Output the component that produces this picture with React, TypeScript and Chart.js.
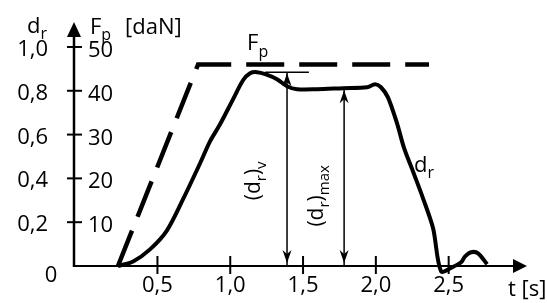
import React, { useEffect, useRef } from "react";
import { Chart, registerables } from "chart.js";

Chart.register(...registerables);

const FONT = "'Open Sans', Lato, sans-serif";

// d_r curve (time in s, relative displacement)
const drTime = [
  0.229, 0.333, 0.449, 0.566, 0.676, 0.793, 0.861, 0.93, 1.019, 1.088, 1.136,
  1.184, 1.245, 1.321, 1.39, 1.459, 1.596, 1.775, 1.94, 1.995, 2.035, 2.083,
  2.145, 2.194, 2.255, 2.324, 2.393, 2.448, 2.523, 2.585, 2.613, 2.654, 2.702,
  2.764,
];
const drValue = [
  0, 0.021, 0.076, 0.163, 0.305, 0.469, 0.569, 0.647, 0.761, 0.848, 0.88,
  0.885, 0.875, 0.853, 0.821, 0.807, 0.807, 0.812, 0.816, 0.83, 0.816, 0.77,
  0.652, 0.538, 0.432, 0.309, 0.172, -0.024, -0.006, 0.017, 0.044, 0.063,
  0.058, 0.008,
];

// F_p dashed line (time in s, force in daN)
const fpTime = [0.229, 0.779, 2.365];
const fpValue = [0, 46, 46];

// annotation arrows
const dvTime = 1.39;
const dvTop = 0.885;
const dmaxTime = 1.782;
const dmaxTop = 0.812;
const peakLineTime = [1.24, 1.54];

// ticks
const xTicks = [0.5, 1.0, 1.5, 2.0, 2.5];
const xTickLabels = ["0,5", "1,0", "1,5", "2,0", "2,5"];
const drTicks = [0, 0.2, 0.4, 0.6, 0.8, 1.0];
const drTickLabels = ["0", "0,2", "0,4", "0,6", "0,8", "1,0"];
const fpTicks = [10, 20, 30, 40, 50];
const fpTickLabels = ["10", "20", "30", "40", "50"];

type Part = { t: string; sub?: boolean };

function drawRich(
  ctx: CanvasRenderingContext2D,
  parts: Part[],
  x: number,
  y: number,
  size: number,
  rotate = false
) {
  ctx.save();
  ctx.translate(x, y);
  if (rotate) ctx.rotate(-Math.PI / 2);
  ctx.textAlign = "left";
  ctx.textBaseline = "alphabetic";
  ctx.fillStyle = "#000";
  let cx = 0;
  const subSize = Math.round(size * 0.72);
  for (const p of parts) {
    ctx.font = `${p.sub ? subSize : size}px ${FONT}`;
    ctx.fillText(p.t, cx, p.sub ? size * 0.28 : 0);
    cx += ctx.measureText(p.t).width;
  }
  ctx.restore();
}

function arrowHead(
  ctx: CanvasRenderingContext2D,
  tx: number,
  ty: number,
  dir: number,
  len: number,
  half: number
) {
  // dir: 1 = pointing down, -1 = pointing up
  ctx.beginPath();
  ctx.moveTo(tx, ty);
  ctx.lineTo(tx - half, ty - dir * len);
  ctx.lineTo(tx, ty - dir * (len - 4));
  ctx.lineTo(tx + half, ty - dir * len);
  ctx.closePath();
  ctx.fill();
}

const decorPlugin = {
  id: "decor",
  afterDatasetsDraw(chart: any) {
    const ctx: CanvasRenderingContext2D = chart.ctx;
    const xs = chart.scales.x;
    const ys = chart.scales.y;
    const yf = chart.scales.yF;
    const area = chart.chartArea;
    const ax = area.left;
    const ay = ys.getPixelForValue(0);
    ctx.save();
    ctx.fillStyle = "#000";
    ctx.strokeStyle = "#000";

    // y axis
    ctx.lineWidth = 2.5;
    ctx.beginPath();
    ctx.moveTo(ax, ay + 1);
    ctx.lineTo(ax, area.top + 10);
    ctx.stroke();
    ctx.beginPath();
    ctx.moveTo(ax, area.top);
    ctx.lineTo(ax - 7, area.top + 15);
    ctx.lineTo(ax + 7, area.top + 15);
    ctx.closePath();
    ctx.fill();

    // x axis
    ctx.lineWidth = 2;
    ctx.beginPath();
    ctx.moveTo(ax, ay);
    ctx.lineTo(area.right - 8, ay);
    ctx.stroke();
    ctx.beginPath();
    ctx.moveTo(area.right, ay);
    ctx.lineTo(area.right - 14, ay - 7);
    ctx.lineTo(area.right - 14, ay + 7);
    ctx.closePath();
    ctx.fill();

    // y ticks + labels
    ctx.lineWidth = 2;
    ctx.font = `22px ${FONT}`;
    drTicks.forEach((v, i) => {
      const py = ys.getPixelForValue(v);
      if (v !== 0) {
        ctx.beginPath();
        ctx.moveTo(ax - 7, py);
        ctx.lineTo(ax + 8, py);
        ctx.stroke();
        ctx.textAlign = "right";
        ctx.fillText(drTickLabels[i], ax - 26, py + 9);
      } else {
        ctx.textAlign = "center";
        ctx.fillText(drTickLabels[i], ax - 23, py + 16);
      }
    });
    ctx.textAlign = "left";
    fpTicks.forEach((v, i) => {
      const py = yf.getPixelForValue(v);
      ctx.fillText(fpTickLabels[i], ax + 14, py + 10);
    });

    // x ticks + labels
    ctx.textAlign = "center";
    xTicks.forEach((v, i) => {
      const px = xs.getPixelForValue(v);
      ctx.beginPath();
      ctx.moveTo(px, ay - 10);
      ctx.lineTo(px, ay + 8);
      ctx.stroke();
      ctx.fillText(xTickLabels[i], px, ay + 26);
    });

    // axis titles
    drawRich(ctx, [{ t: "d" }, { t: "r", sub: true }], ax - 47, area.top + 11, 22);
    drawRich(ctx, [{ t: "F" }, { t: "p", sub: true }], ax + 16, area.top + 12, 22);
    drawRich(ctx, [{ t: "[daN]" }], ax + 51, area.top + 12, 22);
    drawRich(ctx, [{ t: "t [s]" }], area.right - 19, ay + 30, 22);

    // series labels
    const fpCorner = xs.getPixelForValue(fpTime[1]);
    const fpY = yf.getPixelForValue(fpValue[1]);
    drawRich(ctx, [{ t: "F" }, { t: "p", sub: true }], fpCorner + 49, fpY - 14, 22);
    drawRich(
      ctx,
      [{ t: "d" }, { t: "r", sub: true }],
      xs.getPixelForValue(2.255) + 1,
      ys.getPixelForValue(0.43),
      22
    );

    // arrowheads on the annotation arrows
    const a1 = xs.getPixelForValue(dvTime);
    const a2 = xs.getPixelForValue(dmaxTime);
    arrowHead(ctx, a1, ys.getPixelForValue(dvTop) + 1, -1, 13, 4.5);
    arrowHead(ctx, a1, ay - 3, 1, 13, 4.5);
    arrowHead(ctx, a2, ys.getPixelForValue(dmaxTop) + 2, -1, 13, 4.5);
    arrowHead(ctx, a2, ay - 3, 1, 13, 4.5);

    // rotated labels
    drawRich(
      ctx,
      [{ t: "(d" }, { t: "r", sub: true }, { t: ")" }, { t: "v", sub: true }],
      a1 - 27,
      ys.getPixelForValue(0.3),
      21,
      true
    );
    drawRich(
      ctx,
      [{ t: "(d" }, { t: "r", sub: true }, { t: ")" }, { t: "max", sub: true }],
      a2 - 21,
      ys.getPixelForValue(0.18),
      21,
      true
    );
    ctx.restore();
  },
};

export default function App() {
  const ref = useRef<HTMLCanvasElement | null>(null);
  useEffect(() => {
    if (!ref.current) return;
    const thin = { borderColor: "#000", borderWidth: 1.5, pointRadius: 0, tension: 0, clip: false as any };
    const chart = new Chart(ref.current, {
      type: "line",
      data: {
        datasets: [
          {
            label: "d_r",
            data: drTime.map((t, i) => ({ x: t, y: drValue[i] })),
            borderColor: "#000",
            borderWidth: 4,
            pointRadius: 0,
            tension: 0.3,
            clip: false as any,
            yAxisID: "y",
          },
          {
            label: "F_p",
            data: fpTime.map((t, i) => ({ x: t, y: fpValue[i] })),
            borderColor: "#000",
            borderWidth: 4.5,
            borderDash: [38, 15],
            pointRadius: 0,
            tension: 0,
            clip: false as any,
            yAxisID: "yF",
          },
          {
            label: "peak",
            data: peakLineTime.map((t) => ({ x: t, y: dvTop })),
            ...thin,
            yAxisID: "y",
          },
          {
            label: "dv",
            data: [
              { x: dvTime, y: dvTop },
              { x: dvTime, y: 0 },
            ],
            ...thin,
            yAxisID: "y",
          },
          {
            label: "dmax",
            data: [
              { x: dmaxTime, y: dmaxTop },
              { x: dmaxTime, y: 0 },
            ],
            ...thin,
            yAxisID: "y",
          },
        ],
      },
      options: {
        animation: false,
        responsive: false,
        events: [],
        layout: { padding: { left: 74, right: 20, top: 22, bottom: 37 } },
        plugins: { legend: { display: false }, tooltip: { enabled: false } },
        scales: {
          x: { type: "linear", min: -0.073, max: 3.038, display: false },
          y: { type: "linear", min: 0, max: 1.114, display: false },
          yF: { type: "linear", min: 0, max: 55.7, display: false },
        },
      },
      plugins: [decorPlugin],
    });
    return () => chart.destroy();
  }, []);
  return (
    <div style={{ position: "fixed", left: 0, top: 0, width: 547, height: 303, background: "#fff" }}>
      <canvas ref={ref} width={547} height={303} style={{ width: 547, height: 303, display: "block" }} />
    </div>
  );
}
